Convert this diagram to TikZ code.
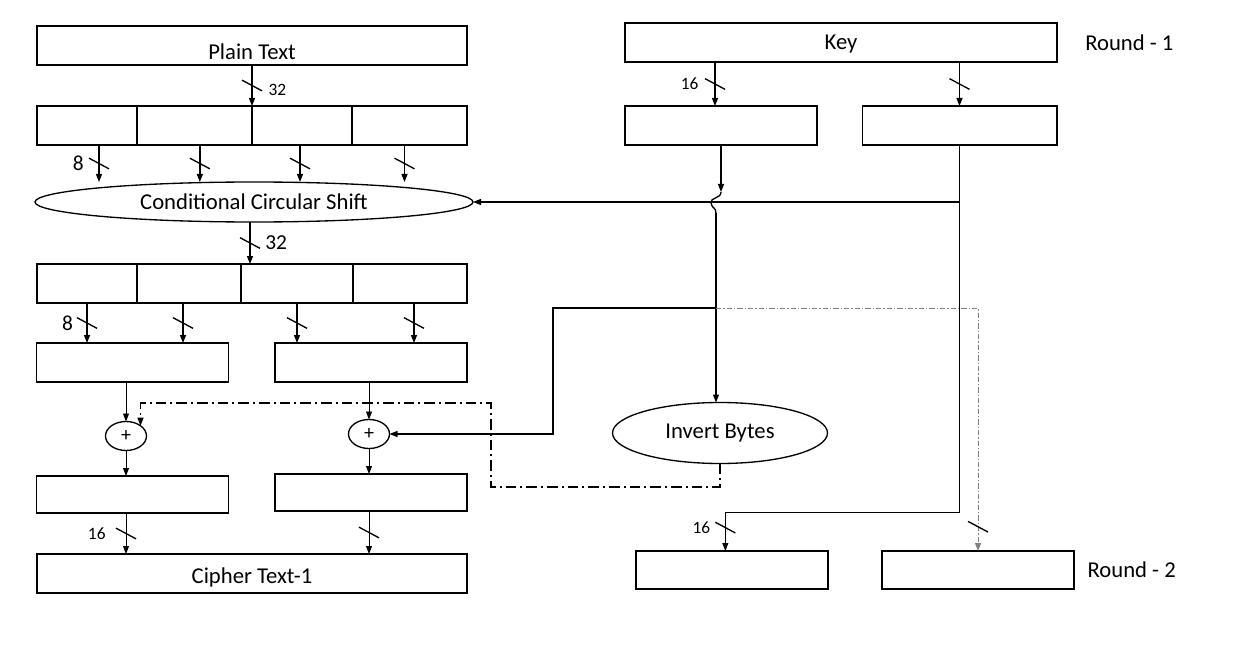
\documentclass[tikz,border=0pt]{standalone}
\usepackage{fontspec}
\setmainfont{Carlito}
\usetikzlibrary{positioning,calc,arrows.meta,shapes.geometric}
\tikzset{blk/.style={draw, line width=1pt, minimum height=29.25pt, inner sep=0pt, outer sep=0pt}}
\tikzset{oval/.style={ellipse, draw, line width=1pt, inner sep=0pt, outer sep=0pt}}
\tikzset{txt/.style={font=\fontsize{17}{20}\selectfont}}
\tikzset{num/.style={font=\fontsize{13}{15}\selectfont, inner sep=0pt}}
\tikzset{bignum/.style={font=\fontsize{16}{19}\selectfont, inner sep=0pt}}
\tikzset{arr/.style={draw, line width=1pt, -{Triangle[length=6pt,width=4.5pt]}}}
\tikzset{arr1/.style={draw, line width=0.7pt, -{Triangle[length=6pt,width=4.5pt]}}}
\tikzset{arrdd/.style={arr, dash pattern=on 8pt off 3pt on 1.5pt off 3pt}}
\tikzset{arrgr/.style={arr1, draw=gray, dash pattern=on 4pt off 1.5pt on 1pt off 1.5pt}}
\tikzset{bus/.pic={\draw[-, solid, black, line width=1pt] (-7.5pt,4pt) -- (7.5pt,-4pt);}}
\begin{document}
\begin{tikzpicture}[x=0.75pt, y=-0.75pt]
	\useasboundingbox (0,0) rectangle (1242,656);
	% plain text side
	\node[blk, minimum width=322.5pt, label={[txt, yshift=-5pt]center:Plain Text}] (pt) at (252,45.5) {};
	\node[blk, minimum width=75pt] (c11) at (87,125.5) {};
	\node[blk, minimum width=86.25pt, right=0pt of c11] (c12) {};
	\node[blk, minimum width=75pt, right=0pt of c12] (c13) {};
	\node[blk, minimum width=86.25pt, right=0pt of c13] (c14) {};
	\node[oval, txt, minimum width=328.5pt, minimum height=30pt] (ccs) at (254,202) {Conditional Circular Shift};
	\node[blk, minimum width=75pt] (c21) at (87,283.5) {};
	\node[blk, minimum width=78pt, right=0pt of c21] (c22) {};
	\node[blk, minimum width=84pt, right=0pt of c22] (c23) {};
	\node[blk, minimum width=85.5pt, right=0pt of c23] (c24) {};
	\node[blk, minimum width=144pt] (m1) at (132.5,362.5) {};
	\node[blk, minimum width=144pt] (m2) at (371,362.5) {};
	\node[oval, font=\fontsize{15}{17}\selectfont, minimum width=30.75pt, minimum height=21.75pt] (a1) at (126,436) {+};
	\node[oval, font=\fontsize{15}{17}\selectfont, minimum width=30.75pt, minimum height=21.75pt] (a2) at (369,434) {+};
	\node[blk, minimum width=144pt, minimum height=27.75pt] (l1) at (132.5,494.5) {};
	\node[blk, minimum width=144pt, minimum height=27.75pt] (l2) at (371,492.5) {};
	\node[blk, txt, minimum width=322.5pt, label={[txt, yshift=-3pt]center:Cipher Text-1}] (ct) at (252,573.5) {};
	% key side
	\node[blk, minimum width=324pt, label={[txt, yshift=-1pt]center:Key}] (key) at (841,42.5) {};
	\node[txt, inner sep=0pt, right=21pt of key] (rnd1) {Round - 1};
	\node[blk, minimum width=144pt] (k1) at (721,125.5) {};
	\node[blk, minimum width=146pt] (k2) at (959.5,125.5) {};
	\node[oval, txt, minimum width=161.25pt, minimum height=45.75pt] (ib) at (720,433) {Invert Bytes};
	\node[blk, minimum width=144pt, minimum height=28.5pt] (r1) at (732,570) {};
	\node[blk, minimum width=144pt, minimum height=28.5pt] (r2) at (978,570) {};
	\node[txt, inner sep=0pt, right=10pt of r2] (rnd2) {Round - 2};
%
	\draw[arr] (pt.south) -- pic[pos=.5]{bus} node[num, right=12pt, yshift=-3pt]{32} (pt.south |- c12.north);
	\draw[arr] ([xshift=9pt]c11.south) -- pic[pos=.5]{bus} node[bignum, left=11pt]{8} ([xshift=9pt]c11.south |- ccs.north);
	\draw[arr] ([xshift=4pt]c12.south) -- pic[pos=.5]{bus} ([xshift=4pt]c12.south |- ccs.north);
	\draw[arr] ([xshift=-1.5pt]c13.south) -- pic[pos=.5]{bus} ([xshift=-1.5pt]c13.south |- ccs.north);
	\draw[arr] ([xshift=-3.75pt]c14.south) -- pic[pos=.5]{bus} ([xshift=-3.75pt]c14.south |- ccs.north);
	\draw[arr] ([xshift=-3pt]ccs.south) -- pic[pos=.5]{bus} node[bignum, right=11pt]{32} ([xshift=-3pt]ccs.south |- c22.north);
	\draw[arr] (c21.south) -- pic[pos=.5]{bus} node[bignum, left=10pt]{8} (c21.south |- m1.north);
	\draw[arr] ([xshift=-4.5pt]c22.south) -- pic[pos=.5]{bus} ([xshift=-4.5pt]c22.south |- m1.north);
	\draw[arr] (c23.south) -- pic[pos=.5]{bus} (c23.south |- m2.north);
	\draw[arr] ([xshift=3pt]c24.south) -- pic[pos=.5]{bus} ([xshift=3pt]c24.south |- m2.north);
	\draw[arr1] (a1 |- m1.south) -- (a1);
	\draw[arr1] (a2 |- m2.south) -- (a2);
	\draw[arr1] (a1) -- (a1 |- l1.north);
	\draw[arr1] (a2) -- (a2 |- l2.north);
	\draw[arr1] (a1 |- l1.south) -- pic[pos=.5]{bus} node[num, left=15pt]{16} (a1 |- ct.north);
	\draw[arr1] (a2 |- l2.south) -- pic[pos=.5]{bus} (a2 |- ct.north);
	% key feeds
	\draw[arr] ([xshift=-4.5pt]k1.north |- key.south) -- pic[pos=.5]{bus} node[num, left=12pt]{16} ([xshift=-4.5pt]k1.north);
	\draw[arr] (k2.north |- key.south) -- pic[pos=.5]{bus} (k2.north);
	\coordinate (hopT) at (721,192);
	\coordinate (hopB) at (716,213);
	\draw[arr] (k1.south) -- (hopT);
	\draw[line width=1pt] (hopT) .. controls (721,199) and (710,197) .. (711,203) .. controls (712,209) and (716,207) .. (hopB);
	\draw[arr] (hopB) -- (hopB |- ib.north);
	\coordinate (kj) at (k2.south |- ccs.east);
	\draw[arr] (k2.south) -- (kj) -- (ccs.east);
	\coordinate (kr) at ($(kj)+(0,310)$);
	\coordinate (r1in) at ([xshift=-5pt]r1.north);
	\draw[arr1] (kj) -- (kr) -- (kr -| r1in) -- pic[pos=.4]{bus} node[num, left=11pt, pos=.4]{16} (r1in);
	% branch below the hop
	\coordinate (br) at (716,308);
	\coordinate (bl) at (553,308);
	\draw[arr] (br) -- (bl) -- (bl |- a2.east) -- (a2.east);
	\draw[arrgr] (br) -- (br -| r2.north) -- pic[pos=.9]{bus} (r2.north);
	\coordinate (dd) at (491,487);
	\coordinate (dt) at (491,403);
	\draw[arrdd] (ib.south) -- (ib.south |- dd) -- (dd) -- (dt) -- (dt -| a1.north east) -- (a1.north east);
\end{tikzpicture}
\end{document}
